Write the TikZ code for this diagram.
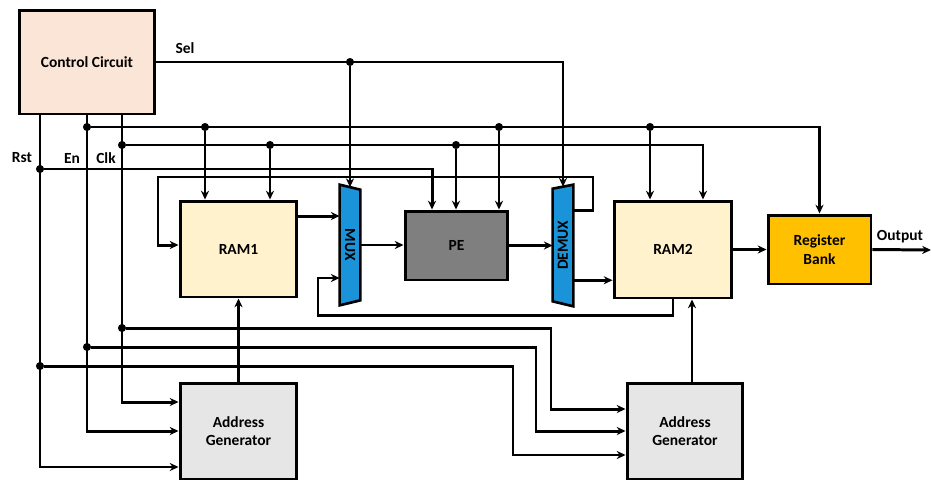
\documentclass[tikz,border=0pt]{standalone}
\usepackage{fontspec}
\setmainfont{Carlito}
\usepackage{tikz}
\usetikzlibrary{positioning,calc,arrows,arrows.meta}
\definecolor{cPeach}{HTML}{FBE5D6}
\definecolor{cCream}{HTML}{FFF2CC}
\definecolor{cGrey}{HTML}{7F7F7F}
\definecolor{cAmber}{HTML}{FFC000}
\definecolor{cSilver}{HTML}{E7E6E6}
\definecolor{cBlue}{HTML}{1B93D8}
\tikzset{
  blk/.style={draw=black,line width=1.7pt,font=\bfseries\fontsize{8.8}{10.5}\selectfont,align=center,inner sep=0pt},
  ctrl/.style={blk,fill=cPeach,minimum width=2.72cm,minimum height=2.08cm},
  ram/.style={blk,fill=cCream,minimum width=2.34cm,minimum height=1.92cm},
  pe/.style={blk,fill=cGrey,minimum width=2.06cm,minimum height=1.38cm},
  reg/.style={blk,fill=cAmber,minimum width=2.06cm,minimum height=1.38cm},
  agen/.style={blk,fill=cSilver,minimum width=2.34cm,minimum height=1.92cm},
  mx/.style={inner sep=0pt,minimum width=0.4cm,font=\bfseries\fontsize{8.8}{10.5}\selectfont},
  lbl/.style={font=\bfseries\fontsize{8.8}{10.5}\selectfont,inner sep=1pt},
  dot/.style={circle,fill=black,inner sep=0pt,minimum size=4.6pt},
  sig/.style={-{Stealth[length=5pt,width=4.6pt]},line width=1.7pt},
}

\begin{document}
\begin{tikzpicture}[x=0.02cm,y=-0.02cm]
  \useasboundingbox (0,0) rectangle (931,481);
  % blocks
  \node[ctrl] (CC) at (87,62) {Control Circuit};
  \node[ram] (RAM1) at (238.5,249) {RAM1};
  \node[pe] (PE) at (456.5,245.5) {PE};
  \node[ram,minimum width=2.36cm,minimum height=1.94cm] (RAM2) at (673,249.5) {RAM2};
  \node[reg] (RB) at (819.5,249.5) {Register\\Bank};
  \node[agen] (AG1) at (238.5,431) {Address\\Generator};
  \node[agen,minimum width=2.32cm] (AG2) at (685,431) {Address\\Generator};
  \node[mx,minimum height=2.3cm] (MUX) at (350,245) {};
  \node[mx,minimum height=2.33cm] (DMX) at (563,245.25) {};
  \filldraw[fill=cBlue,draw=black,line width=1.5pt]
    ([yshift=0.05cm]MUX.north west) -- ([yshift=-0.05cm]MUX.north east) --
    ([yshift=0.05cm]MUX.south east) -- ([yshift=-0.05cm]MUX.south west) -- cycle;
  \filldraw[fill=cBlue,draw=black,line width=1.5pt]
    ([yshift=-0.04cm]DMX.north west) -- ([yshift=0.04cm]DMX.north east) --
    ([yshift=-0.05cm]DMX.south east) -- ([yshift=0.05cm]DMX.south west) -- cycle;
  \node[mx,rotate=-90] at (MUX) {MUX};
  \node[mx,rotate=90] at (DMX) {DEMUX};
  % junctions
  \node[dot] (sM) at (350,62) {};
  \node[dot] (eA) at (87,127) {};
  \node[dot] (e1) at (205,127) {};
  \node[dot] (e2) at (499,127) {};
  \node[dot] (e3) at (650,127) {};
  \node[dot] (cA) at (122,145) {};
  \node[dot] (c1) at (270,145) {};
  \node[dot] (c2) at (456,145) {};
  \node[dot] (rA) at (40,169) {};
  \node[dot] (cB) at (122,328) {};
  \node[dot] (eB) at (87,347) {};
  \node[dot] (rB) at (40,366) {};
  \coordinate (fbA) at (593,177);
  \coordinate (fbB) at (158,177);
  \coordinate (fbC) at (318,315);
  \coordinate (cK) at (551,328);
  \coordinate (eK) at (536,347);
  \coordinate (rK) at (513,366);
  \coordinate (out) at (931,250);
  % labels
  \node[lbl] (sel) at (185,48) {Sel};
  \node[lbl] (rst) at (22,158) {Rst};
  \node[lbl] (en) at (72,158) {En};
  \node[lbl] (clk) at (106,158) {Clk};
  \node[lbl] (outl) at (900,237) {Output};
  % select
  \draw[sig] (CC.east) -| (DMX.north);
  \draw[sig] (sM) -- (MUX.north);
  % control lines down to address generator 1
  \draw[sig] (CC.south -| rA) |- ([yshift=-0.72cm]AG1.west);
  \draw[sig] (CC.south -| eA) |- (AG1.west);
  \draw[sig] (CC.south -| cA) |- ([yshift=0.58cm]AG1.west);
  % upper buses
  \draw[sig] (eA) -| (RB.north);
  \draw[sig] (cA) -| ([xshift=0.6cm]RAM2.north);
  \draw[sig] (rA) -| ([xshift=-0.49cm]PE.north);
  \foreach \d/\n in {e1/RAM1,e2/PE,e3/RAM2,c1/RAM1,c2/PE} \draw[sig] (\d) -- (\d |- \n.north);
  % lower buses
  \draw[sig] (cB) -- (cK) |- ([yshift=0.44cm]AG2.west);
  \draw[sig] (eB) -- (eK) |- (AG2.west);
  \draw[sig] (rB) -- (rK) |- ([yshift=-0.48cm]AG2.west);
  % data path
  \draw[sig] ([yshift=0.66cm]RAM1.east) -- ([yshift=0.66cm]RAM1.east -| MUX.west);
  \draw[sig] (MUX.east) -- (MUX.east -| PE.west);
  \draw[sig] (PE.east) -- (PE.east -| DMX.west);
  \draw[sig] ([yshift=-0.7cm]DMX.east) -- ([yshift=-0.7cm]DMX.east -| RAM2.west);
  \draw[sig] ([yshift=0.7cm]DMX.east) -| (fbA) -- (fbB) |- ([yshift=0.08cm]RAM1.west);
  \draw[sig] (RAM2.south) |- (fbC) |- ([yshift=-0.66cm]MUX.west);
  \draw[sig] (RAM2.east) -- (RB.west);
  \draw[sig] (RB.east) -- (out);
  \draw[sig] (AG1.north) -- (RAM1.south);
  \draw[sig] ([xshift=0.14cm]AG2.north) -- ([xshift=0.14cm]AG2.north |- RAM2.south);
\end{tikzpicture}
\end{document}
